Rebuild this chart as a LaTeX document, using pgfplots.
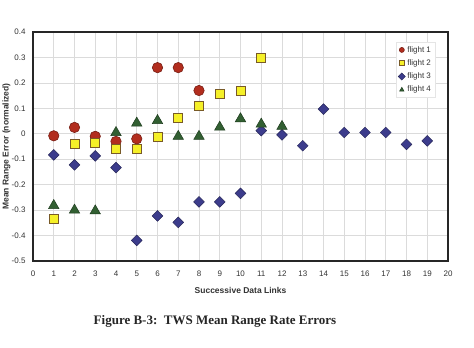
\documentclass[border=0pt]{standalone}
\usepackage{pgfplots}
\pgfplotsset{compat=1.18}
\usepackage{fontspec}
\setmainfont{Liberation Serif}
\newfontfamily\arial{Liberation Sans}
\definecolor{fone}{RGB}{178,45,30}
\definecolor{foneE}{RGB}{120,30,20}
\definecolor{ftwo}{RGB}{245,240,40}
\definecolor{ftwoE}{RGB}{120,90,40}
\definecolor{fthree}{RGB}{60,60,140}
\definecolor{fthreeE}{RGB}{40,40,90}
\definecolor{ffour}{RGB}{50,95,50}
\definecolor{ffourE}{RGB}{30,60,30}
\begin{document}
\begin{tikzpicture}
\useasboundingbox[fill=white] (-33pt,-87pt) rectangle (441pt,261pt);
\begin{axis}[
  at={(0pt,0pt)}, anchor=south west,
  scale only axis, width=415pt, height=229pt,
  xmin=0, xmax=20, ymin=-0.5, ymax=0.4,
  xtick={0,1,...,20},
  ytick={-0.5,-0.4,...,0.4},
  yticklabel style={/pgf/number format/fixed,/pgf/number format/precision=1, xshift=-4pt},
  xticklabel style={yshift=-6pt},
  /pgf/number format/assume math mode=true,
  ticklabel style={font=\arial\fontsize{8}{9}\selectfont, text=black!80},
  major tick length=0pt,
  grid=major,
  grid style={draw=black!14, line width=0.6pt},
  axis line style={draw=black!85, line width=1.6pt},
  xlabel={Successive Data Links},
  ylabel={Mean Range Error (normalized)},
  every axis x label/.style={at={(axis description cs:0.5,-0.127)}, anchor=center,
     font=\arial\bfseries\fontsize{8.5}{10}\selectfont, text=black!80},
  every axis y label/.style={at={(axis description cs:-0.064,0.5)}, anchor=center, rotate=90,
     font=\arial\bfseries\fontsize{8.5}{10}\selectfont, text=black!80},
  legend style={at={(axis description cs:0.969,0.956)}, anchor=north east,
     draw=black!10, fill=white, font=\arial\fontsize{8}{9}\selectfont,
     row sep=2pt, inner sep=2pt, text=black!80},
  legend cell align=left,
  legend image code/.code={\draw[#1, mark size=2.5pt] plot coordinates {(0pt,0pt)};},
]
\addplot[only marks, mark=*, mark size=5.2pt, mark options={fill=fone, draw=foneE, line width=0.6pt}]
 coordinates {(1,-0.008) (2,0.025) (3,-0.01) (4,-0.03) (5,-0.02) (6,0.26) (7,0.26) (8,0.17)};
\addlegendentry{flight 1}
\addplot[only marks, mark=square*, mark size=4.5pt, mark options={fill=ftwo, draw=ftwoE, line width=0.8pt}]
 coordinates {(1,-0.335) (2,-0.04) (3,-0.037) (4,-0.06) (5,-0.06) (6,-0.012) (7,0.062) (8,0.11) (9,0.156) (10,0.167) (11,0.30)};
\addlegendentry{flight 2}
\addplot[only marks, mark=square*, mark size=3.8pt, mark options={rotate=45, fill=fthree, draw=fthreeE, line width=0.5pt}]
 coordinates {(1,-0.083) (2,-0.122) (3,-0.087) (4,-0.133) (5,-0.419) (6,-0.323) (7,-0.348) (8,-0.268) (9,-0.268) (10,-0.234) (11,0.012) (12,-0.004) (13,-0.047) (14,0.097) (15,0.005) (16,0.005) (17,0.005) (18,-0.042) (19,-0.028)};
\addlegendentry{flight 3}
\addplot[only marks, mark=triangle*, mark size=6pt, mark options={fill=ffour, draw=ffourE, line width=0.5pt}]
 coordinates {(1,-0.282) (2,-0.30) (3,-0.303) (4,0.005) (5,0.042) (6,0.052) (7,-0.01) (8,-0.01) (9,0.026) (10,0.059) (11,0.038) (12,0.029)};
\addlegendentry{flight 4}
\end{axis}
\node[font=\bfseries\fontsize{13}{15}\selectfont, text=black!85] at (182pt,-60pt) {Figure B-3:\ \ TWS Mean Range Rate Errors};
\end{tikzpicture}
\end{document}
